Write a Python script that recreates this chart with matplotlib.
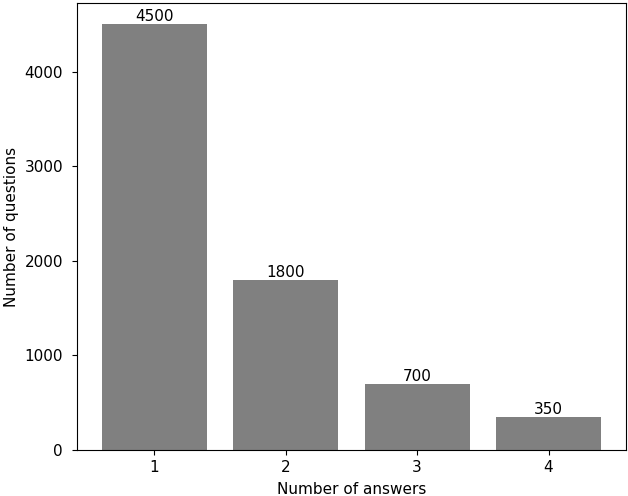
import matplotlib
matplotlib.use("Agg")
import matplotlib.pyplot as plt

# Daten
antworten = [1, 2, 3, 4]
fragen = [4500, 1800, 700, 350]

fig = plt.figure(figsize=(6.28, 4.96), dpi=100)
ax = fig.add_axes([77 / 628, 46 / 496, 549 / 628, 447 / 496])

bars = ax.bar(antworten, fragen, color="gray", width=0.8)
ax.bar_label(bars, labels=[str(v) for v in fragen], fontsize=11)

ax.set_xticks(antworten)
ax.tick_params(labelsize=11)
ax.tick_params(axis="y", pad=6.5)
ax.tick_params(axis="x", pad=4)
# x-Achsenbeschriftung so tief wie möglich, aber noch ganz im Bild
ax.set_xlabel("Number of answers", fontsize=11, labelpad=5)
ax.set_ylabel("Number of questions", fontsize=11)

fig.savefig("out.png", dpi=100)
